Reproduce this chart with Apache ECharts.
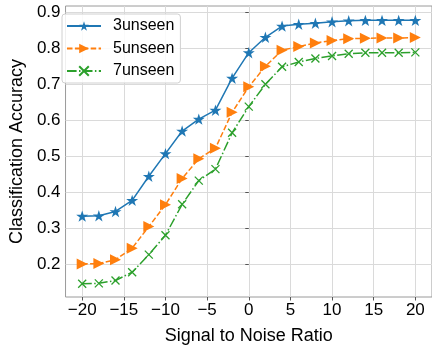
<!DOCTYPE html>
<html><head><meta charset="utf-8">
<script src="https://cdn.jsdelivr.net/npm/echarts@6/dist/echarts.min.js"></script>
<style>html,body{margin:0;padding:0;background:#fff}#c{width:432px;height:350px}</style>
</head><body><div id="c"></div>
<script>
var snr = [-20,-18,-16,-14,-12,-10,-8,-6,-4,-2,0,2,4,6,8,10,12,14,16,18,20];
var acc3 = [0.333,0.334,0.346,0.377,0.444,0.507,0.570,0.603,0.628,0.717,0.788,0.831,0.862,0.867,0.870,0.874,0.877,0.878,0.878,0.878,0.878];
var acc5 = [0.200,0.201,0.212,0.244,0.304,0.365,0.438,0.493,0.522,0.622,0.693,0.750,0.795,0.805,0.815,0.822,0.827,0.828,0.829,0.829,0.830];
var acc7 = [0.145,0.146,0.154,0.177,0.226,0.280,0.366,0.432,0.464,0.565,0.638,0.700,0.749,0.762,0.772,0.779,0.785,0.788,0.788,0.788,0.789];
var seriesNames = ['3unseen','5unseen','7unseen'];
var xTicks = [-20,-15,-10,-5,0,5,10,15,20];
var yTicks = [0.2,0.3,0.4,0.5,0.6,0.7,0.8,0.9];

var FONT = '"Liberation Sans", Arial, sans-serif';
var STAR = 'path://M0,-1 L0.2245,-0.309 L0.951,-0.309 L0.363,0.118 L0.588,0.809 L0,0.382 L-0.588,0.809 L-0.363,0.118 L-0.951,-0.309 L-0.2245,-0.309 Z';
var TRI = 'path://M0,0 L10,5 L0,10 Z';
var XMK = 'path://M0,0 L10,10 M10,0 L0,10';
function pairs(ys){ return snr.map(function(x,i){ return [x, ys[i]]; }); }

var chart = echarts.init(document.getElementById('c'), null, {renderer:'canvas'});
chart.setOption({
  animation:false,
  backgroundColor:'#fff',
  grid:{left:55, top:6, width:380, height:302, show:true, borderColor:'#9a9a9a', borderWidth:1, backgroundColor:'transparent'},
  legend:{
    orient:'vertical', left:62, top:14,
    data:seriesNames,
    itemWidth:34, itemHeight:12, itemGap:4.5,
    padding:[3,6,3,4],
    backgroundColor:'rgba(255,255,255,0.85)', borderColor:'#d0d0d0', borderWidth:1, borderRadius:3,
    textStyle:{fontFamily:FONT, fontSize:16, color:'#000', lineHeight:18, padding:[0,0,0,7]}
  },
  xAxis:{
    type:'value', min:-22, max:22,
    name:'Signal to Noise Ratio', nameLocation:'middle', nameGap:30,
    nameTextStyle:{fontFamily:FONT, fontSize:18, color:'#000'},
    axisLine:{show:false},
    axisTick:{show:true, length:3.5, lineStyle:{color:'#555'}, customValues:xTicks},
    axisLabel:{fontFamily:FONT, fontSize:17, color:'#000', margin:5, customValues:xTicks,
      formatter:function(v){ return v<0 ? '\u2212'+Math.abs(v) : String(v); }},
    splitLine:{show:true, lineStyle:{color:'#dadada', width:1}}
  },
  yAxis:{
    type:'value', min:0.108, max:0.918,
    name:'Classification Accuracy', nameLocation:'middle', nameGap:35,
    nameTextStyle:{fontFamily:FONT, fontSize:18, color:'#000'},
    axisLine:{show:false},
    axisTick:{show:true, length:3.5, lineStyle:{color:'#555'}, customValues:yTicks},
    axisLabel:{fontFamily:FONT, fontSize:17, color:'#000', margin:5, customValues:yTicks,
      formatter:function(v){ return v.toFixed(1); }},
    splitLine:{show:true, lineStyle:{color:'#dadada', width:1}}
  },
  series:[
    {name:seriesNames[0], type:'line', data:pairs(acc3), symbol:STAR, symbolKeepAspect:true, symbolSize:12,
      lineStyle:{color:'#1f77b4', width:1.5, type:'solid'}, itemStyle:{color:'#1f77b4'}, z:3},
    {name:seriesNames[1], type:'line', data:pairs(acc5), symbol:TRI, symbolKeepAspect:true, symbolSize:11,
      lineStyle:{color:'#ff7f0e', width:1.5, type:[5.5,2.4]}, itemStyle:{color:'#ff7f0e'}, z:3},
    {name:seriesNames[2], type:'line', data:pairs(acc7), symbol:XMK, symbolKeepAspect:true, symbolSize:8,
      lineStyle:{color:'#2ca02c', width:1.5, type:[9.6,2.4,1.5,2.4]}, itemStyle:{color:'#2ca02c', borderColor:'#2ca02c', borderWidth:1.3}, z:3}
  ]
});
</script></body></html>
